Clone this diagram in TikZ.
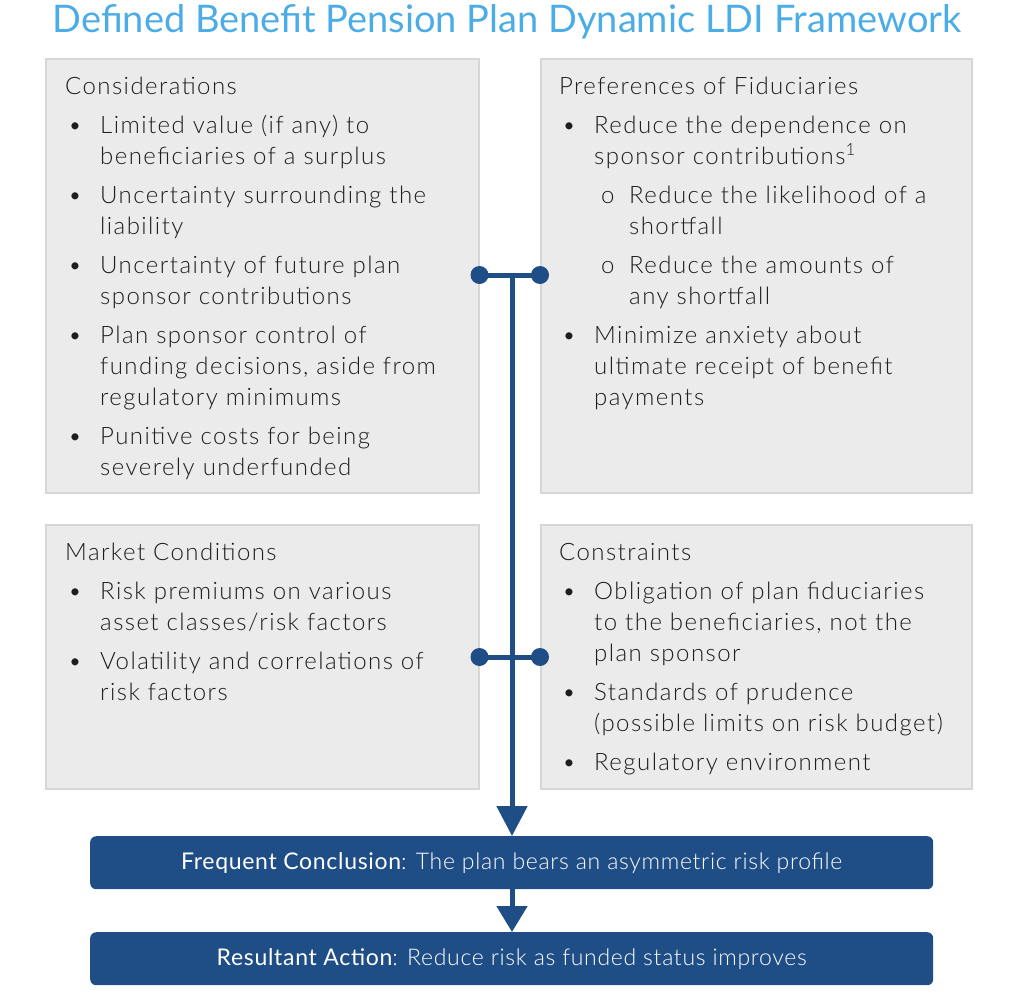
\documentclass[tikz,border=0pt]{standalone}
\usepackage{fontspec}
\setmainfont{Lato Light}[LetterSpace=6]
\newfontfamily\titlefont{Lato}
\newfontfamily\barlight{Lato Light}[LetterSpace=3]
\newfontfamily\barreg{Lato}[LetterSpace=3]
\usetikzlibrary{arrows.meta}
\definecolor{navy}{RGB}{31,78,135}
\definecolor{titleblue}{RGB}{75,172,230}
\definecolor{boxgray}{RGB}{235,235,235}
\definecolor{boxline}{RGB}{214,214,214}
\definecolor{txt}{RGB}{30,30,30}
\newcommand{\boxhead}[1]{\noindent\strut#1\par\vspace{8pt}}
\newcommand{\bul}[1]{\hangindent=35pt\hangafter=1\noindent\makebox[35pt][l]{\hspace{3pt}\textbullet}#1\par\vspace{8pt}}
\newcommand{\sbul}[1]{\hangindent=70pt\hangafter=1\noindent\hspace*{35pt}\makebox[35pt][l]{\hspace{7pt}o}#1\par\vspace{8pt}}
\newenvironment{boxtext}{\begin{minipage}[t]{420pt}\fontsize{24}{31}\selectfont\color{txt}\parindent=0pt\parskip=0pt}{\end{minipage}}
\begin{document}
\begin{tikzpicture}[x=1pt,y=-1pt,
  graybox/.style={draw=boxline, line width=1.5pt, fill=boxgray, anchor=north west, inner sep=0pt},
  navybox/.style={fill=navy, rounded corners=6pt, anchor=north west, inner sep=0pt, minimum width=843pt, minimum height=53pt},
  navyline/.style={draw=navy, line width=5pt},
  dot/.style={fill=navy},
  boxtxt/.style={anchor=north west, inner sep=0pt},
  whitetxt/.style={text=white, font=\barlight\fontsize{23}{26}\selectfont},
  title/.style={text=titleblue, font=\titlefont\fontsize{38}{44}\selectfont, inner sep=0pt}]
\useasboundingbox (0,0) rectangle (1024,1004);
\node[title] (ttl) at (507,22) {Defined Benefit Pension Plan Dynamic LDI Framework};
% boxes
\node[graybox, minimum width=433pt, minimum height=434pt] (cons) at (45,58) {};
\node[graybox, minimum width=431pt, minimum height=434pt] (pref) at (540,58) {};
\node[graybox, minimum width=433pt, minimum height=264pt] (mkt) at (45,524) {};
\node[graybox, minimum width=431pt, minimum height=264pt] (cstr) at (540,524) {};
% texts
\node[boxtxt] (constxt) at (65,72.3) {\begin{boxtext}
\boxhead{Considerations}
\bul{Limited value (if any) to\\beneficiaries of a surplus}
\bul{Uncertainty surrounding the\\liability}
\bul{Uncertainty of future plan\\sponsor contributions}
\bul{Plan sponsor control of\\funding decisions, aside from\\regulatory minimums}
\bul{Punitive costs for being\\severely underfunded}
\end{boxtext}};
\node[boxtxt] (preftxt) at (559,72.3) {\begin{boxtext}
\boxhead{Preferences of Fiduciaries}
\bul{Reduce the dependence on\\sponsor contributions\textsuperscript{1}}
\sbul{Reduce the likelihood of a\\shortfall}
\sbul{Reduce the amounts of\\any shortfall}
\bul{Minimize anxiety about\\ultimate receipt of benefit\\payments}
\end{boxtext}};
\node[boxtxt] (mkttxt) at (65,538.3) {\begin{boxtext}
\boxhead{Market Conditions}
\bul{Risk premiums on various\\asset classes/risk factors}
\bul{Volatility and correlations of\\risk factors}
\end{boxtext}};
\node[boxtxt] (cstrtxt) at (559,538.3) {\begin{boxtext}
\boxhead{Constraints}
\bul{Obligation of plan fiduciaries\\to the beneficiaries, not the\\plan sponsor}
\bul{Standards of prudence\\(possible limits on risk budget)}
\bul{Regulatory environment}
\end{boxtext}};
% bottom boxes
\node[navybox] (concl) at (90,836) {};
\node[whitetxt] (concltxt) at (concl.center) {{\barreg Frequent Conclusion}: The plan bears an asymmetric risk profile};
\node[navybox] (act) at (90,932) {};
\node[whitetxt] (acttxt) at (act.center) {{\barreg Resultant Action}: Reduce risk as funded status improves};
% connectors
\coordinate (j1) at (512,275);
\coordinate (j2) at (512,657);
\draw[navyline] (cons.east |- j1) -- (pref.west |- j1);
\draw[navyline] (mkt.east |- j2) -- (cstr.west |- j2);
\fill[dot] (cons.east |- j1) circle (9pt);
\fill[dot] (pref.west |- j1) circle (9pt);
\fill[dot] (mkt.east |- j2) circle (9pt);
\fill[dot] (cstr.west |- j2) circle (9pt);
\draw[navyline, -{Triangle[width=30pt,length=30pt]}] (j1) -- (j1 |- concl.north);
\draw[navyline, -{Triangle[width=30pt,length=26pt]}] (j1 |- concl.south) -- (j1 |- act.north);
\end{tikzpicture}
\end{document}
